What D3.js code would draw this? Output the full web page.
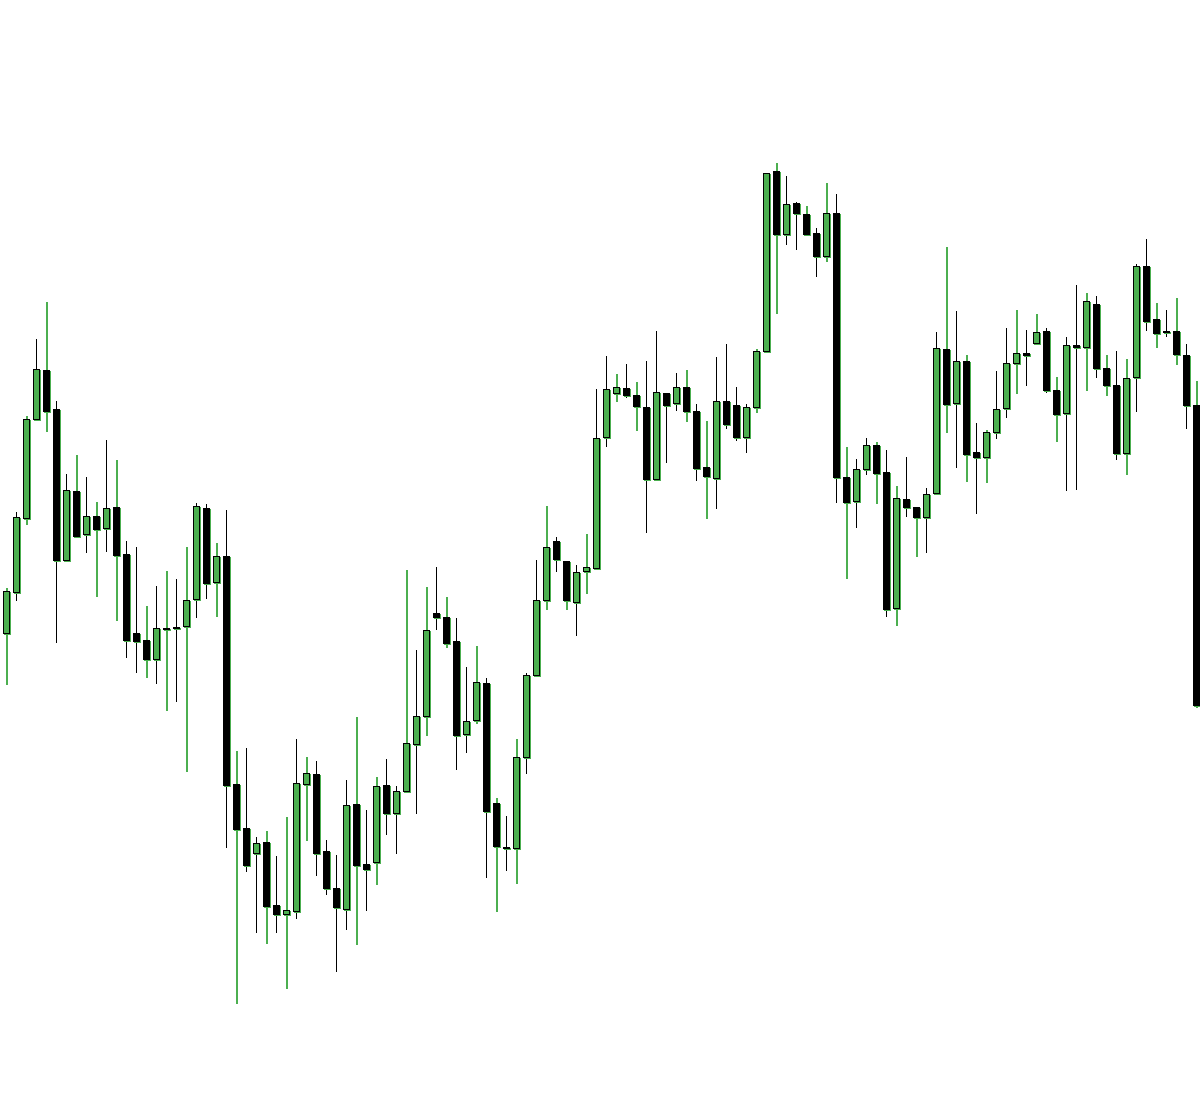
<!DOCTYPE html>
<html>
<head>
<meta charset="utf-8">
<script src="https://cdn.jsdelivr.net/npm/d3@7"></script>
<style>
  html, body { margin: 0; padding: 0; background: #ffffff; }
  svg { display: block; }
</style>
</head>
<body>
<svg id="chart" width="1200" height="1094"></svg>
<script>
// ---- data (arbitrary price units) ----
const opens = [
196.73,200.83,208.23,218.07,223.00,219.07,204.00,210.90,206.57,208.37,
207.20,209.30,204.60,196.67,196.00,194.13,197.17,197.27,197.37,200.10,
209.20,201.83,204.40,181.60,177.17,174.73,175.83,169.50,168.63,168.93,
181.57,182.63,174.90,171.20,169.13,179.60,173.63,173.83,181.50,178.73,
180.93,185.63,188.45,198.65,198.31,195.90,186.57,188.04,191.69,179.70,
175.29,175.17,184.35,192.52,199.97,205.95,203.95,199.85,202.86,203.16,
216.27,220.73,221.20,220.47,219.33,212.10,220.73,219.67,221.27,218.93,
213.30,212.23,219.87,219.47,216.27,219.30,224.87,242.90,236.63,239.67,
238.60,236.70,234.37,238.67,212.33,209.87,213.07,215.53,212.77,199.17,
210.13,209.27,208.33,210.67,225.10,219.67,223.87,214.77,214.30,216.77,
219.23,223.67,224.67,225.73,226.90,221.03,218.73,225.47,225.27,229.63,
223.17,221.50,214.73,222.27,233.40,228.13,226.87,226.90,224.50,219.50];
const highs = [
201.20,208.80,218.40,226.07,229.77,219.90,212.60,214.50,212.27,209.80,
215.97,214.00,205.90,205.27,199.40,201.40,202.90,202.10,205.27,209.67,
209.60,205.73,209.00,184.90,185.23,176.33,176.87,174.40,178.30,186.07,
184.33,183.90,176.00,174.50,182.00,188.27,178.97,182.27,184.07,181.40,
202.97,195.04,201.28,203.35,200.27,198.16,193.27,195.45,192.22,180.25,
178.41,186.05,192.67,204.00,209.41,206.30,203.95,203.54,206.62,221.10,
224.43,222.57,223.60,221.77,223.93,226.87,220.73,222.67,222.97,219.60,
217.90,224.27,225.57,221.30,219.57,225.07,242.73,243.67,242.40,239.83,
239.43,237.17,241.67,240.60,215.27,214.07,216.20,215.77,215.00,211.40,
214.33,209.27,211.17,226.80,235.27,228.90,224.50,217.70,217.00,222.90,
227.17,228.97,227.00,228.60,227.17,222.27,226.30,231.47,230.70,230.40,
224.50,224.90,224.07,233.60,236.07,229.67,229.00,230.20,225.60,221.93];
const lows = [
191.50,199.93,207.50,218.07,216.83,195.67,204.00,206.30,204.67,200.27,
204.83,197.87,194.23,192.73,192.23,191.57,188.93,189.77,182.80,198.17,
200.07,198.33,175.23,159.57,172.80,166.67,165.60,166.67,161.07,168.07,
175.90,172.40,170.50,162.83,167.00,165.50,168.87,171.53,176.53,174.57,
180.93,178.60,186.40,196.96,195.23,183.00,184.70,187.63,172.20,168.82,
172.95,171.64,182.62,192.52,199.03,202.80,199.03,196.43,200.57,203.16,
215.33,219.83,220.20,216.93,206.73,211.87,213.73,218.93,217.80,211.93,
208.07,209.07,217.07,215.90,214.73,218.73,224.87,228.57,235.53,235.00,
236.57,232.33,233.83,209.67,202.13,207.17,212.50,209.57,198.33,197.43,
208.33,204.33,204.67,210.50,216.67,213.17,211.83,208.60,211.73,216.10,
218.17,220.57,221.43,225.73,220.73,215.80,210.87,211.00,220.90,222.23,
220.37,214.00,212.47,218.83,226.93,225.23,226.30,223.53,217.13,189.17];
const closes = [
200.90,208.27,218.07,223.07,218.93,204.00,211.00,206.43,208.43,207.10,
209.17,204.53,196.03,195.93,194.13,197.17,197.17,197.27,200.00,209.40,
201.70,204.40,181.47,177.13,173.53,175.67,169.43,168.60,169.03,181.67,
182.70,174.73,171.23,169.27,179.50,173.53,173.13,181.40,178.73,180.93,
185.67,188.45,197.00,198.27,195.75,186.50,187.90,191.76,178.90,175.36,
175.29,184.35,192.52,199.97,205.27,204.07,199.97,202.82,203.28,216.20,
221.10,221.27,220.53,219.40,212.10,220.77,219.47,221.27,218.93,213.23,
212.40,219.87,217.60,216.27,219.30,224.87,242.73,236.60,239.63,238.67,
236.57,234.37,238.67,212.33,209.77,213.07,215.53,212.73,199.07,210.17,
209.27,208.33,210.63,225.17,219.63,223.87,214.63,214.30,216.77,219.10,
223.67,224.67,224.50,226.77,220.97,218.63,225.47,225.27,229.90,223.17,
221.47,214.73,222.17,233.37,227.90,226.73,226.87,224.60,219.50,189.50];
// wick tone per candle as seen in the picture: g = green, k = black
const wickTone = (
  "gkgkgkkgkgkgkkgkgkgk" +
  "kgkgkkgkgkgkkkkgkgkk" +
  "gkgkgkkgkgkgkkgkgkgk" +
  "kgkgkkkkgkgkkkkgkgkk" +
  "gkgkgkkgkgkgkkgkgkgk" +
  "kgkgkgkkgkgkgkkgkgkg").split("");

const candles = opens.map((o, i) => ({
  i, open: o, high: highs[i], low: lows[i], close: closes[i], wick: wickTone[i]
}));

// ---- drawing ----
const GREEN = "#4caf50", BLACK = "#000000";
const svg = d3.select("#chart");

const x = d3.scaleBand().domain(d3.range(candles.length)).range([1, 1201]).padding(0);
const y = d3.scaleLinear().domain([150, 260]).range([1100, 0]);

const bw = Math.round(x.bandwidth() * 0.6);
const cpx = d => Math.round(x(d.i) + x.bandwidth() / 2);   // integer pixel column
const cx = d => cpx(d) + 0.5;
const bodyTop = d => Math.round(y(Math.max(d.open, d.close))) + 0.5;
const bodyH = d => Math.max(1, Math.round(y(Math.min(d.open, d.close))) - Math.round(y(Math.max(d.open, d.close))));

const g = svg.append("g");

// wicks (green wicks are drawn two pixels wide, black ones one pixel)
g.selectAll("line.wick").data(candles).join("line")
  .attr("class", "wick")
  .attr("x1", d => d.wick === "g" ? cpx(d) + 1 : cx(d))
  .attr("x2", d => d.wick === "g" ? cpx(d) + 1 : cx(d))
  .attr("y1", d => Math.round(y(d.high)))
  .attr("y2", d => Math.round(y(d.low)))
  .attr("stroke", d => d.wick === "g" ? GREEN : BLACK)
  .attr("stroke-width", d => d.wick === "g" ? 2 : 1)
  .attr("shape-rendering", "crispEdges");

// green shadow behind bodies
g.selectAll("rect.shadow").data(candles).join("rect")
  .attr("class", "shadow")
  .attr("x", d => cx(d) - bw / 2 - 0.5 + 1)
  .attr("y", d => bodyTop(d) + 1)
  .attr("width", bw)
  .attr("height", bodyH)
  .attr("fill", "none")
  .attr("stroke", GREEN)
  .attr("stroke-width", 1)
  .attr("shape-rendering", "crispEdges");

// bodies
g.selectAll("rect.body").data(candles).join("rect")
  .attr("class", "body")
  .attr("x", d => cx(d) - bw / 2 - 0.5)
  .attr("y", bodyTop)
  .attr("width", bw)
  .attr("height", bodyH)
  .attr("fill", d => d.close >= d.open ? GREEN : BLACK)
  .attr("stroke", BLACK)
  .attr("stroke-width", 1)
  .attr("shape-rendering", "crispEdges");
</script>
</body>
</html>
